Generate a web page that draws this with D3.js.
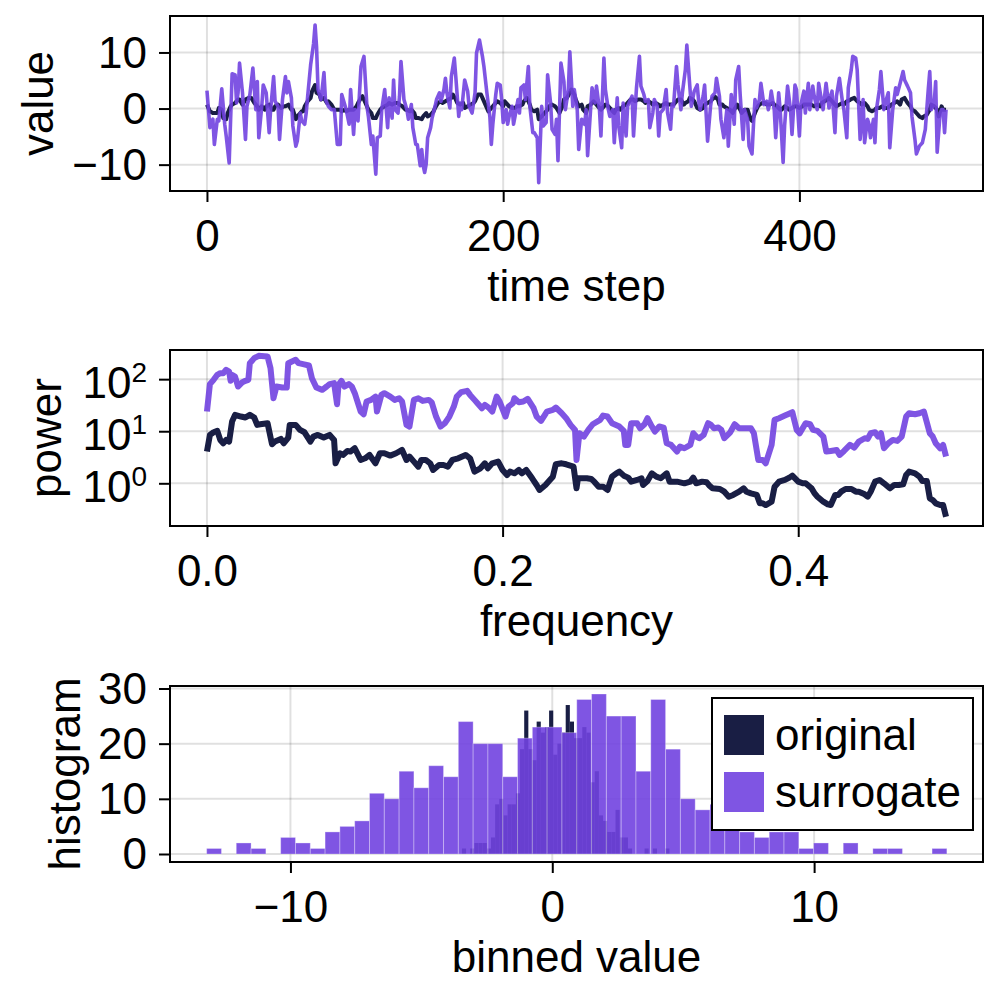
<!DOCTYPE html>
<html><head><meta charset="utf-8">
<script src="https://cdn.jsdelivr.net/npm/d3@7"></script>
<style>
html,body{margin:0;padding:0;background:#fff;}
svg{display:block;font-family:"Liberation Sans",Arial,Helvetica,sans-serif;}
</style></head><body>
<svg id="chart" width="1000" height="1000"></svg>
<script>
// ---------------- DATA ----------------
const seriesNames = ["original", "surrogate"];

// time series: [time step, value]
const originalSeries = [[0,0.7],[2,-0.5],[4,-0.8],[7,-0.8],[8,0.1],[10,-0.2],[11,-1.7],[13,-1.9],[14,-0.8],[16,0.4],[17,0.7],[19,1.0],[21,1.6],[22,1.6],[24,0.7],[26,1.6],[28,1.9],[30,1.9],[32,1.0],[34,0.4],[35,-0.2],[37,0.4],[39,-0.2],[40,0.4],[42,0.7],[44,-0.2],[45,-0.2],[46,0.4],[48,0.7],[50,0.1],[52,0.4],[53,0.4],[55,0.7],[57,-0.2],[58,-0.2],[60,-1.9],[62,-1.1],[64,-0.5],[65,-0.5],[66,0.4],[68,1.3],[70,1.9],[71,3.1],[73,4.2],[74,2.8],[76,2.5],[77,1.6],[79,1.9],[81,1.0],[82,1.3],[84,0.7],[86,-0.2],[88,-0.2],[90,-0.2],[91,-0.5],[93,-0.2],[94,-0.5],[96,-0.2],[98,-0.2],[99,-0.2],[101,0.4],[102,1.0],[104,1.9],[105,2.2],[107,1.0],[109,-0.2],[111,-0.8],[112,-1.7],[114,-1.7],[115,-1.1],[117,-0.2],[118,0.1],[120,0.4],[122,0.7],[123,1.0],[125,0.7],[127,1.0],[129,1.0],[130,0.7],[132,0.4],[134,-0.2],[135,-0.2],[137,-0.5],[138,-0.2],[140,-0.8],[141,-1.7],[143,-1.7],[145,-1.9],[146,-1.4],[148,-0.8],[149,-1.4],[151,-1.1],[153,-0.5],[154,0.1],[156,1.0],[158,1.3],[159,1.0],[161,1.3],[163,1.6],[165,1.9],[166,2.5],[168,1.6],[169,1.0],[171,0.7],[173,1.0],[174,0.1],[176,0.4],[178,0.7],[180,1.0],[181,1.3],[183,2.5],[185,2.5],[186,1.9],[188,0.7],[190,-0.5],[191,-0.2],[193,0.4],[195,1.0],[196,1.3],[198,1.0],[200,0.4],[201,1.3],[203,0.7],[204,0.4],[206,0.1],[208,0.1],[209,0.4],[211,0.4],[213,0.7],[214,1.3],[216,1.9],[218,0.7],[219,-0.2],[221,-0.5],[223,-0.2],[224,-1.9],[226,-1.4],[228,-0.8],[230,-0.2],[231,0.4],[233,0.7],[235,0.4],[236,0.1],[238,-0.8],[240,0.4],[241,1.6],[243,1.9],[245,2.8],[246,3.4],[248,2.5],[249,1.6],[251,0.4],[253,0.7],[254,-0.2],[256,-0.8],[257,0.4],[259,0.7],
[261,1.3],[263,0.7],[264,0.4],[266,-0.2],[268,0.4],[269,0.7],[271,0.4],[273,-0.2],[275,-0.8],[276,-0.2],[278,0.1],[279,-0.2],[281,0.4],[283,0.7],[284,1.0],[286,1.6],[288,1.6],[289,1.3],[291,1.6],[293,1.6],[295,1.3],[296,1.0],[298,1.3],[300,1.0],[301,0.7],[303,1.0],[305,0.7],[306,0.4],[308,0.7],[310,1.0],[311,0.7],[313,0.7],[315,0.7],[317,1.3],[318,1.6],[320,1.6],[322,0.7],[323,1.0],[325,1.3],[326,1.9],[328,1.6],[329,1.3],[331,0.1],[333,-0.2],[335,0.1],[336,0.7],[338,1.0],[340,1.3],[341,1.6],[343,2.1],[345,1.6],[346,0.7],[348,0.7],[349,0.4],[351,0.1],[353,-0.2],[355,-0.8],[356,-0.2],[358,0.7],[360,-0.2],[361,-0.8],[363,-0.2],[365,-0.2],[367,-1.9],[368,-2.2],[370,-0.8],[372,0.4],[373,0.7],[375,1.0],[377,1.0],[378,0.7],[380,0.7],[382,1.0],[383,0.7],[385,0.4],[387,-0.2],[388,-0.2],[390,0.4],[392,0.1],[393,-0.2],[395,0.1],[397,0.4],[398,0.4],[400,0.1],[402,0.4],[403,0.7],[405,0.7],[407,0.7],[408,0.7],[410,0.4],[412,0.7],[414,0.4],[415,1.0],[417,1.3],[419,1.6],[420,1.9],[422,1.3],[424,0.7],[425,0.4],[427,0.7],[429,1.0],[430,0.7],[432,1.3],[434,1.5],[435,1.7],[437,1.9],[439,1.3],[441,1.0],[442,0.7],[444,1.0],[446,0.4],[447,-0.2],[449,-0.5],[451,-0.2],[452,0.1],[454,0.1],[456,0.4],[457,0.1],[459,0.1],[461,0.4],[462,0.7],[464,1.0],[466,1.3],[468,0.7],[469,1.6],[471,1.9],[473,1.0],[475,0.4],[476,-0.2],[478,-0.5],[479,-0.8],[481,-1.4],[483,-1.7],[484,-1.4],[486,-1.1],[488,-0.2],[489,0.7],[491,0.4],[493,-0.2],[494,-1.4],[496,0.4],[497,-0.2],[499,-0.2]];

const surrogateSeries = [[0,3.2],[2,-3.4],[4,-1.9],[5,-6.4],[7,-1.9],[8,-2.2],[10,3.5],[12,-2.8],[13,-4.9],[15,-9.7],[17,6.2],[19,6.0],[20,1.0],[21,2.8],[22,8.1],[24,2.8],[26,-5.5],[27,0.4],[29,2.5],[31,7.2],[33,-0.2],[34,4.8],[35,-5.2],[37,0.4],[38,4.2],[40,2.8],[42,-4.3],[43,-0.2],[45,5.7],[46,1.3],[48,0.4],[49,-5.5],[51,1.6],[53,5.7],[54,2.8],[55,4.8],[57,1.9],[58,-3.1],[60,-6.7],[61,-5.8],[63,-0.8],[64,-2.2],[66,-2.8],[67,-0.8],[68,2.2],[70,7.8],[72,11.6],[73,14.9],[74,11.0],[75,3.4],[77,1.6],[78,4.0],[79,6.4],[80,1.6],[82,0.4],[84,-0.2],[86,-0.2],[88,-6.4],[90,-6.4],[91,2.5],[93,0.7],[94,-0.2],[96,-2.8],[97,3.4],[99,-4.6],[100,-0.2],[102,-2.2],[103,2.8],[104,7.5],[106,9.3],[108,0.4],[109,-1.4],[111,-6.4],[112,-4.9],[114,-11.7],[115,-5.2],[117,-4.9],[118,-0.2],[120,3.4],[122,-3.4],[123,1.9],[125,-1.7],[126,5.1],[127,-0.2],[129,-0.8],[130,2.2],[131,8.4],[133,1.6],[135,-0.2],[136,-1.9],[138,0.7],[139,-3.4],[140,-4.9],[141,-6.4],[142,-6.4],[144,-10.2],[145,-7.3],[146,-10.2],[147,-11.4],[148,-9.9],[149,-5.2],[151,-3.4],[152,-1.7],[154,0.4],[155,1.6],[157,2.8],[158,1.3],[160,3.4],[161,5.4],[162,2.8],[164,0.1],[165,5.7],[167,9.0],[168,5.7],[170,-1.4],[171,1.0],[172,-0.2],[174,5.1],[176,3.1],[177,0.4],[179,-0.8],[180,1.0],[181,2.8],[182,9.9],[184,12.2],[186,9.3],[187,7.5],[189,2.8],[191,-1.4],[192,-6.4],[193,-2.8],[195,2.5],[196,4.5],[198,4.2],[199,1.6],[200,-2.5],[202,-0.2],[203,-2.8],[204,-1.4],[206,0.4],[207,-2.8],[208,-1.4],[210,1.6],[211,-0.8],[212,3.7],[214,4.2],[215,1.6],[217,7.5],[218,0.4],[220,-4.3],[221,-4.3],[223,-5.2],[224,-13.2],[226,0.4],[227,-3.1],[229,-2.5],[230,6.0],[232,1.0],[233,-3.7],[235,-4.6],[236,-1.9],[237,-9.3],[239,8.1],[241,4.8],[242,-0.2],[244,3.4],[245,10.1],[247,0.4],[248,3.4],[250,-0.2],[251,-7.3],[253,-1.9],[255,-2.8],[256,-0.2],[257,-8.4],[259,-0.2],
[260,3.7],[262,1.0],[263,4.0],[265,-0.2],[266,-4.9],[268,9.0],[269,3.4],[271,-0.2],[272,-1.4],[274,-0.2],[275,-6.1],[277,1.9],[278,-3.1],[280,-7.0],[281,1.0],[283,-4.9],[284,0.4],[286,1.6],[287,2.2],[288,-4.9],[290,3.7],[292,9.3],[293,4.0],[295,2.5],[296,1.3],[298,1.6],[299,-3.4],[301,-0.8],[302,1.6],[304,0.4],[305,-4.9],[306,-0.8],[308,-0.2],[310,3.4],[311,-0.8],[313,-3.7],[314,0.7],[315,0.4],[317,7.5],[318,4.2],[320,-0.2],[321,2.8],[323,6.9],[324,11.3],[326,4.0],[327,0.4],[329,3.1],[331,4.2],[332,1.3],[333,-0.2],[335,2.2],[336,4.2],[338,-5.8],[340,0.4],[341,2.2],[343,2.8],[344,5.4],[346,2.2],[347,-1.9],[349,-5.2],[351,-0.2],[352,-6.7],[354,2.5],[356,-2.8],[357,5.1],[359,7.5],[360,2.5],[362,-5.5],[363,-0.2],[365,-1.9],[366,-6.7],[368,-8.1],[369,-2.8],[370,1.6],[371,0.1],[373,1.6],[374,4.5],[376,0.7],[378,1.3],[379,-0.2],[380,1.0],[381,3.1],[383,-0.2],[384,-5.2],[386,2.8],[387,-0.2],[389,-9.6],[390,-3.1],[392,4.0],[394,-0.2],[395,-4.6],[397,4.2],[398,3.4],[400,-4.9],[401,0.7],[403,3.1],[404,-0.8],[406,4.5],[407,-0.2],[409,4.0],[410,2.2],[412,-0.2],[413,4.5],[415,1.3],[416,-0.2],[418,4.5],[420,0.1],[421,2.2],[422,3.1],[424,-4.3],[425,2.2],[427,5.4],[429,1.3],[430,-0.2],[432,-5.2],[433,3.7],[435,6.9],[436,9.3],[438,9.0],[439,6.9],[441,-5.5],[443,1.6],[444,-6.1],[446,-1.9],[447,-2.8],[448,-5.2],[450,-1.9],[451,-6.1],[452,-0.2],[454,3.4],[455,6.6],[457,-0.2],[458,1.0],[460,2.8],[461,-7.0],[463,-0.2],[465,3.7],[466,2.5],[468,4.5],[470,6.6],[471,5.1],[473,4.0],[475,2.8],[476,-1.4],[478,-5.5],[479,-8.1],[481,-6.7],[483,-6.1],[484,-4.9],[485,-3.7],[487,3.4],[488,6.6],[489,-0.2],[491,1.0],[492,4.8],[493,-7.8],[495,-0.8],[496,-0.2],[497,-0.2],[498,-4.3],[499,-0.2]];

// power spectra: [frequency, log10(power)]
const originalSpectrum = [[0.000,0.609],[0.002,0.929],[0.0045,0.98],[0.007,1.006],[0.009,0.833],[0.011,0.769],[0.013,0.833],[0.015,0.801],[0.017,1.186],[0.019,1.314],[0.023,1.282],[0.026,1.263],[0.029,1.314],[0.032,1.263],[0.034,1.122],[0.036,1.134],[0.041,1.154],[0.044,0.75],[0.046,0.801],[0.050,0.852],[0.052,0.769],[0.055,0.878],[0.056,1.122],[0.060,1.122],[0.063,1.025],[0.066,0.98],[0.070,0.801],[0.072,0.897],[0.075,0.929],[0.079,0.878],[0.083,0.929],[0.086,0.833],[0.087,0.384],[0.090,0.577],[0.092,0.545],[0.095,0.622],[0.097,0.609],[0.100,0.673],[0.104,0.448],[0.107,0.48],[0.110,0.545],[0.114,0.384],[0.117,0.577],[0.120,0.577],[0.124,0.532],[0.128,0.577],[0.132,0.641],[0.135,0.448],[0.137,0.513],[0.140,0.416],[0.143,0.32],[0.145,0.448],[0.148,0.448],[0.151,0.384],[0.153,0.256],[0.157,0.352],[0.160,0.352],[0.163,0.32],[0.166,0.448],[0.170,0.48],[0.175,0.545],[0.178,0.48],[0.181,0.224],[0.185,0.288],[0.188,0.384],[0.190,0.288],[0.193,0.384],[0.197,0.416],[0.200,0.256],[0.203,0.16],[0.205,0.224],[0.208,0.192],[0.211,0.256],[0.213,0.192],[0.216,0.256],[0.220,0.096],[0.223,-0.032],[0.225,-0.128],[0.229,-0.032],[0.232,0.064],[0.234,0.128],[0.236,0.365],[0.240,0.384],[0.243,0.365],[0.248,0.32],[0.250,-0.096],[0.251,0.096],[0.257,0.096],[0.260,0.083],[0.262,0.032],[0.265,-0.064],[0.268,-0.064],[0.271,-0.128],[0.274,0.128],[0.277,0.192],[0.279,0.224],[0.282,0.147],[0.285,0.109],[0.287,0.032],[0.291,0.064],[0.294,0.096],[0.295,-0.032],[0.298,0.045],[0.301,0.192],[0.304,0.128],[0.307,0.096],[0.311,0.192],[0.313,0.032],[0.318,0.032],[0.323,0.0],[0.327,0.032],[0.329,0.109],[0.331,0.0],[0.335,0.032],[0.338,0.019],[0.340,-0.045],[0.342,-0.096],[0.347,-0.109],[0.350,-0.161],[0.353,-0.257],[0.356,-0.224],[0.360,-0.161],[0.363,-0.096],[0.365,-0.161],[0.368,-0.193],[0.372,-0.224],[0.374,-0.385],[0.376,-0.385],[0.378,-0.417],[0.382,-0.353],[0.384,-0.064],[0.387,0.032],[0.391,0.064],[0.394,0.109],[0.396,0.147],[0.400,0.032],[0.403,0.0],[0.405,0.0],[0.409,-0.096],[0.411,-0.193],[0.413,-0.257],[0.417,-0.353],[0.420,-0.404],[0.422,-0.417],[0.425,-0.224],[0.427,-0.224],[0.429,-0.161],[0.432,-0.109],[0.436,-0.109],[0.439,-0.161],[0.441,-0.161],[0.445,-0.212],[0.447,-0.257],[0.449,-0.161],[0.452,0.032],[0.455,0.064],[0.458,0.0],[0.462,-0.096],[0.465,-0.032],[0.468,-0.032],[0.471,-0.019],[0.473,0.16],[0.475,0.224],[0.479,0.192],[0.482,0.128],[0.484,0.045],[0.487,0.045],[0.489,-0.289],[0.491,-0.321],[0.493,-0.385],[0.496,-0.417],[0.498,-0.417],[0.500,-0.641]];

const surrogateSpectrum = [[0.000,1.378],[0.002,1.904],[0.0045,1.987],[0.007,2.083],[0.009,2.115],[0.011,2.115],[0.013,2.179],[0.015,2.147],[0.016,1.968],[0.017,2.083],[0.019,2.051],[0.021,1.859],[0.024,1.942],[0.026,1.968],[0.028,1.987],[0.029,2.307],[0.032,2.404],[0.035,2.448],[0.041,2.436],[0.043,2.211],[0.045,1.634],[0.047,1.859],[0.051,1.839],[0.054,1.839],[0.055,2.307],[0.060,2.372],[0.062,2.307],[0.065,2.288],[0.069,2.263],[0.071,2.019],[0.074,1.839],[0.078,1.795],[0.081,1.859],[0.083,1.904],[0.086,1.923],[0.088,1.519],[0.089,1.891],[0.091,1.968],[0.093,1.859],[0.096,1.904],[0.098,1.859],[0.100,1.731],[0.104,1.378],[0.106,1.327],[0.108,1.57],[0.111,1.602],[0.114,1.666],[0.115,1.378],[0.118,1.698],[0.120,1.731],[0.124,1.666],[0.127,1.602],[0.130,1.634],[0.132,1.57],[0.135,1.122],[0.137,1.09],[0.140,1.602],[0.143,1.634],[0.146,1.583],[0.150,1.602],[0.152,1.557],[0.155,1.282],[0.158,1.09],[0.161,1.154],[0.164,1.282],[0.167,1.474],[0.169,1.666],[0.172,1.75],[0.176,1.775],[0.178,1.698],[0.181,1.602],[0.183,1.538],[0.186,1.442],[0.188,1.506],[0.191,1.442],[0.193,1.378],[0.196,1.666],[0.198,1.57],[0.202,1.282],[0.204,1.474],[0.207,1.538],[0.208,1.634],[0.211,1.557],[0.214,1.57],[0.217,1.622],[0.221,1.442],[0.223,1.282],[0.226,1.198],[0.230,1.378],[0.234,1.41],[0.236,1.455],[0.240,1.346],[0.243,1.25],[0.246,1.122],[0.249,1.025],[0.250,0.448],[0.252,0.961],[0.255,0.897],[0.258,1.025],[0.261,1.134],[0.266,1.218],[0.268,1.301],[0.271,1.282],[0.274,1.154],[0.279,1.09],[0.282,1.006],[0.283,0.737],[0.285,0.737],[0.287,1.154],[0.291,1.154],[0.293,1.057],[0.296,1.134],[0.298,1.25],[0.301,1.09],[0.303,0.993],[0.306,1.09],[0.309,1.07],[0.311,0.769],[0.314,0.737],[0.318,0.609],[0.320,0.705],[0.323,0.673],[0.327,0.737],[0.329,0.961],[0.331,0.897],[0.333,0.865],[0.336,0.929],[0.339,1.154],[0.341,1.122],[0.343,1.057],[0.346,1.07],[0.348,1.025],[0.350,0.865],[0.354,0.98],[0.357,1.134],[0.360,1.057],[0.365,1.057],[0.368,1.057],[0.370,0.961],[0.373,0.448],[0.376,0.448],[0.378,0.384],[0.382,0.737],[0.384,1.218],[0.387,1.25],[0.391,1.301],[0.393,1.327],[0.396,1.365],[0.399,1.025],[0.401,0.961],[0.405,1.154],[0.408,1.134],[0.410,1.025],[0.413,1.006],[0.417,0.897],[0.419,0.609],[0.422,0.622],[0.426,0.641],[0.428,0.545],[0.431,0.622],[0.435,0.737],[0.438,0.686],[0.441,0.801],[0.445,0.865],[0.447,0.852],[0.449,0.961],[0.452,0.98],[0.454,0.897],[0.456,0.961],[0.458,0.673],[0.461,0.769],[0.464,0.833],[0.467,0.814],[0.470,0.897],[0.473,1.282],[0.475,1.346],[0.479,1.327],[0.482,1.346],[0.485,1.378],[0.489,0.961],[0.491,0.897],[0.493,0.769],[0.496,0.673],[0.498,0.737],[0.500,0.513]];

// histograms: first bin edge, bin width, counts per bin
const originalBinStart = -3.45, originalBinWidth = 0.1585;
const originalCounts = [1,0,1,2,2,2,1,3,9,10,7,9,9,11,19,26,19,17,24,22,23,26,18,20,22,27,24,21,21,23,22,13,15,7,6,4,4,8,3,3,1,0,0,0,1,0,1,0,0,1];
const surrogateBinStart = -13.2, surrogateBinWidth = 0.5654;
const surrogateCounts = [1,0,2,1,0,3,2,1,4,5,6,11,10,15,12,16,14,24,20,20,14,21,23,23,22,28,29,25,25,15,28,19,10,8,9,7,4,3,4,4,1,2,0,2,0,1,1,0,0,1];

// ticks
const timeTicks = [0, 200, 400];
const valueTicks = [-10, 0, 10];
const freqTicks = [0, 0.2, 0.4];
const powerTicks = [1, 10, 100];
const binTicks = [-10, 0, 10];
const countTicks = [0, 10, 20, 30];

// ---------------- STYLE / LAYOUT ----------------
const COLOR = {original: "#191E44", surrogate: "#7143E0"};
const SUR_ALPHA = 0.9;
const FONT = 44;
const left = 170, right = 983;
const svg = d3.select("#chart");

function clip(top, bottom, id) {
  svg.append("clipPath").attr("id", id).append("rect")
    .attr("x", left).attr("y", top).attr("width", right - left).attr("height", bottom - top);
}

function grid(xs, ys, xt, yt, top, bottom) {
  const g = svg.append("g");
  g.selectAll(".gx").data(xt).enter().append("line")
    .attr("x1", d => xs(d)).attr("x2", d => xs(d)).attr("y1", top).attr("y2", bottom)
    .attr("stroke", "rgba(0,0,0,0.12)").attr("stroke-width", 2);
  g.selectAll(".gy").data(yt).enter().append("line")
    .attr("y1", d => ys(d)).attr("y2", d => ys(d)).attr("x1", left).attr("x2", right)
    .attr("stroke", "rgba(0,0,0,0.12)").attr("stroke-width", 2);
}

function axes(xs, ys, xt, yt, top, bottom, xfmt, yfmt, xlabel, ylabel, ylabelX, logY) {
  svg.append("rect").attr("x", left).attr("y", top).attr("width", right - left).attr("height", bottom - top)
    .attr("fill", "none").attr("stroke", "#000").attr("stroke-width", 2);
  const gx = svg.append("g").attr("transform", `translate(0,${bottom})`)
    .call(d3.axisBottom(xs).tickValues(xt).tickFormat(xfmt).tickSize(11).tickPadding(18));
  const gy = svg.append("g").attr("transform", `translate(${left},0)`)
    .call(d3.axisLeft(ys).tickValues(yt).tickFormat(yfmt).tickSize(11).tickPadding(12));
  [gx, gy].forEach(g => {
    g.select(".domain").remove();
    g.selectAll(".tick line").attr("stroke", "#000").attr("stroke-width", 2);
    g.selectAll("text").attr("font-size", FONT).attr("fill", "#000")
      .attr("font-family", '"Liberation Sans", Arial, sans-serif');
  });
  gy.selectAll("text").attr("dy", "0.34em");
  if (logY) {
    gy.selectAll("text").each(function (d) {
      const t = d3.select(this);
      t.text(null).attr("dy", 18);
      t.append("tspan").text("10");
      t.append("tspan").attr("font-size", 28).attr("dy", -16).text(Math.round(Math.log10(d)));
    });
  }
  svg.append("text").attr("x", (left + right) / 2).attr("y", bottom + 110)
    .attr("text-anchor", "middle").attr("font-size", FONT).text(xlabel);
  svg.append("text").attr("transform", `translate(${ylabelX},${(top + bottom) / 2}) rotate(-90)`)
    .attr("text-anchor", "middle").attr("font-size", FONT).text(ylabel);
}

const fmtInt = d3.format("d");
const fmt1 = d3.format(".1f");

// ---------------- PANEL 1: time series ----------------
{
  const top = 16, bottom = 191;
  const x = d3.scaleLinear().domain([-24.95, 523.95]).range([left, right]);
  const y = d3.scaleLinear().domain([-14.7, 16.5]).range([bottom, top]);
  clip(top, bottom, "clip1");
  grid(x, y, timeTicks, valueTicks, top, bottom);
  const line = d3.line().x(d => x(d[0])).y(d => y(d[1]));
  const g = svg.append("g").attr("clip-path", "url(#clip1)");
  g.append("path").datum(originalSeries).attr("d", line).attr("fill", "none")
    .attr("stroke", COLOR.original).attr("stroke-width", 4).attr("stroke-linejoin", "round");
  g.append("path").datum(surrogateSeries).attr("d", line).attr("fill", "none")
    .attr("stroke", COLOR.surrogate).attr("stroke-opacity", SUR_ALPHA).attr("stroke-width", 3.6).attr("stroke-linejoin", "round");
  axes(x, y, timeTicks, valueTicks, top, bottom, fmtInt, fmtInt, "time step", "value", 53, false);
}

// ---------------- PANEL 2: power spectrum ----------------
{
  const top = 350, bottom = 526;
  const x = d3.scaleLinear().domain([-0.025, 0.525]).range([left, right]);
  const y = d3.scaleLog().domain([Math.pow(10, -0.82), Math.pow(10, 2.56)]).range([bottom, top]);
  clip(top, bottom, "clip2");
  grid(x, y, freqTicks, powerTicks, top, bottom);
  const line = d3.line().x(d => x(d[0])).y(d => y(Math.pow(10, d[1])));
  const g = svg.append("g").attr("clip-path", "url(#clip2)");
  g.append("path").datum(originalSpectrum).attr("d", line).attr("fill", "none")
    .attr("stroke", COLOR.original).attr("stroke-width", 6).attr("stroke-linejoin", "round");
  g.append("path").datum(surrogateSpectrum).attr("d", line).attr("fill", "none")
    .attr("stroke", COLOR.surrogate).attr("stroke-opacity", SUR_ALPHA).attr("stroke-width", 6).attr("stroke-linejoin", "round");
  axes(x, y, freqTicks, powerTicks, top, bottom, fmt1, d => d, "frequency", "power", 61, true);
}

// ---------------- PANEL 3: histogram ----------------
{
  const top = 686, bottom = 862;
  const x = d3.scaleLinear().domain([-14.6, 16.45]).range([left, right]);
  const y = d3.scaleLinear().domain([-1.45, 30.45]).range([bottom, top]);
  clip(top, bottom, "clip3");
  grid(x, y, binTicks, countTicks, top, bottom);
  const g = svg.append("g").attr("clip-path", "url(#clip3)");
  const origBins = originalCounts.map((c, i) => ({x0: originalBinStart + i * originalBinWidth, x1: originalBinStart + (i + 1) * originalBinWidth, c}));
  const surBins = surrogateCounts.map((c, i) => ({x0: surrogateBinStart + i * surrogateBinWidth, x1: surrogateBinStart + (i + 1) * surrogateBinWidth, c}));
  g.selectAll(".ob").data(origBins.filter(b => b.c > 0)).enter().append("rect")
    .attr("x", b => x(b.x0)).attr("width", b => x(b.x1) - x(b.x0))
    .attr("y", b => y(b.c)).attr("height", b => y(0) - y(b.c))
    .attr("fill", COLOR.original);
  g.selectAll(".sb").data(surBins.filter(b => b.c > 0)).enter().append("rect")
    .attr("x", b => x(b.x0)).attr("width", b => x(b.x1) - x(b.x0))
    .attr("y", b => y(b.c)).attr("height", b => y(0) - y(b.c))
    .attr("fill", COLOR.surrogate).attr("fill-opacity", SUR_ALPHA)
    .attr("stroke", "#ffffff").attr("stroke-opacity", 0.3).attr("stroke-width", 1);
  axes(x, y, binTicks, countTicks, top, bottom, fmtInt, fmtInt, "binned value", "histogram", 80, false);

  // legend
  const lg = svg.append("g");
  lg.append("rect").attr("x", 712).attr("y", 698).attr("width", 261).attr("height", 132)
    .attr("fill", "#fff").attr("stroke", "#000").attr("stroke-width", 2);
  seriesNames.forEach((name, i) => {
    const cy = 735 + i * 57;
    lg.append("rect").attr("x", 724).attr("y", cy - 20).attr("width", 40).attr("height", 40)
      .attr("fill", COLOR[name]).attr("fill-opacity", name === "surrogate" ? SUR_ALPHA : 1);
    lg.append("text").attr("x", 775).attr("y", cy + 15).attr("font-size", 44).text(name);
  });
}
</script>
</body></html>
